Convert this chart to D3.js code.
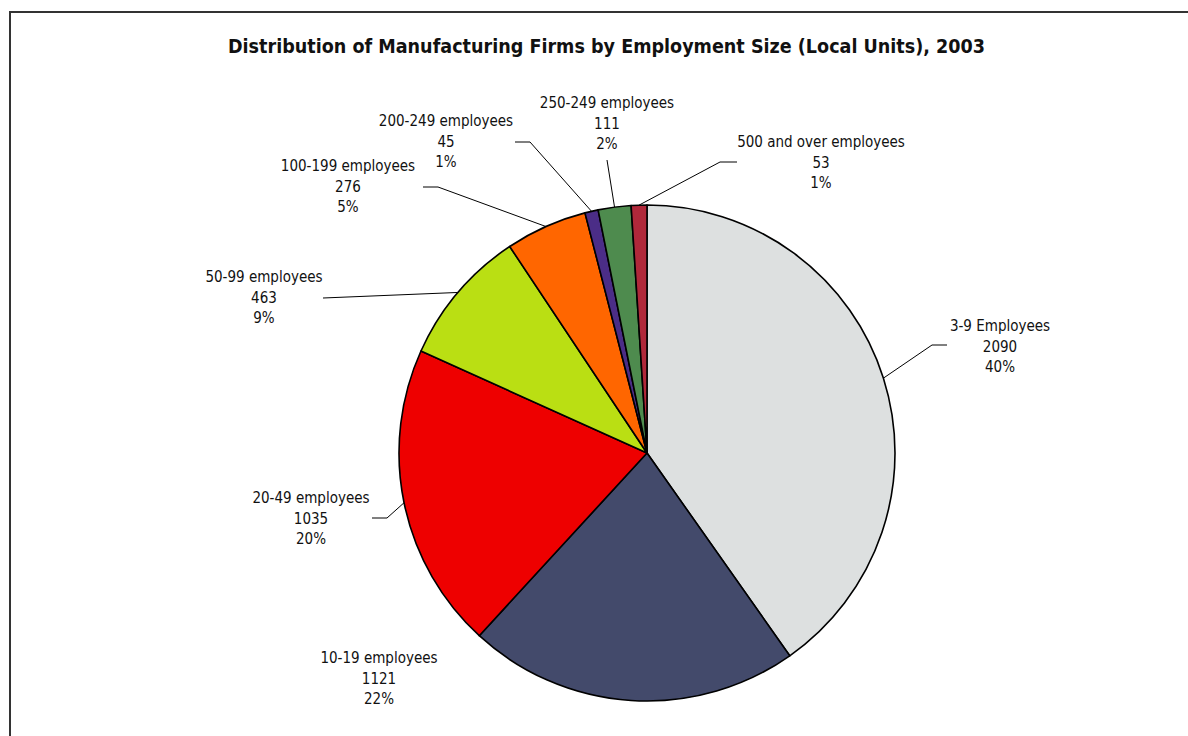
<!DOCTYPE html>
<html>
<head>
<meta charset="utf-8">
<script src="https://cdn.jsdelivr.net/npm/d3@7/dist/d3.min.js"></script>
<style>
  html, body { margin: 0; padding: 0; background: #fff; }
  svg { display: block; }
  text { font-family: "DejaVu Sans Condensed", "DejaVu Sans", sans-serif; fill: #111; }
</style>
</head>
<body>
<svg id="chart" width="1188" height="736"></svg>
<script>
// Local units by employment size band, 2003
const categories = [
  "3-9 Employees", "10-19 employees", "20-49 employees", "50-99 employees",
  "100-199 employees", "200-249 employees", "250-249 employees", "500 and over employees"
];
const firms = [2090, 1121, 1035, 463, 276, 45, 111, 53];
const percentLabels = ["40%", "22%", "20%", "9%", "5%", "1%", "2%", "1%"];

const sliceColors = ["#dde0e0", "#434a6b", "#ee0000", "#badf13", "#ff6600", "#4b2d87", "#4e8b4e", "#b0283a"];

// Label block placement: centre x, first baseline, and the elbow of the leader line
const labelLayout = [
  { x: 1000, y: 331, elbow: [932, 345], end: [947, 345] },
  { x: 379, y: 663, elbow: null, end: null },
  { x: 311, y: 503, elbow: [387, 518], end: [372, 518] },
  { x: 264, y: 282, elbow: null, end: [323, 298] },
  { x: 348, y: 171, elbow: [438, 187], end: [423, 187] },
  { x: 446, y: 126, elbow: [530, 142], end: [515, 142] },
  { x: 607, y: 108, elbow: null, end: [607, 160] },
  { x: 821, y: 147, elbow: [720, 162], end: [737, 162] }
];

const svg = d3.select("#chart");
const W = 1188, H = 736;

// frame
svg.append("rect")
  .attr("x", 10).attr("y", 12)
  .attr("width", W).attr("height", H)
  .attr("fill", "#fff")
  .attr("stroke", "#333").attr("stroke-width", 2);

svg.append("text")
  .attr("x", 606.5).attr("y", 53)
  .attr("text-anchor", "middle")
  .attr("font-weight", "bold")
  .attr("font-size", 19)
  .attr("textLength", 757)
  .attr("lengthAdjust", "spacingAndGlyphs")
  .text("Distribution of Manufacturing Firms by Employment Size (Local Units), 2003");

const cx = 647, cy = 453, r = 248;
const data = categories.map((c, i) => ({ name: c, value: firms[i], pct: percentLabels[i], color: sliceColors[i], layout: labelLayout[i] }));

const pie = d3.pie().value(d => d.value).sort(null);
const arc = d3.arc().innerRadius(0).outerRadius(r);
const arcs = pie(data);

const g = svg.append("g").attr("transform", `translate(${cx},${cy})`);
g.selectAll("path.slice")
  .data(arcs)
  .join("path")
  .attr("class", "slice")
  .attr("d", arc)
  .attr("fill", d => d.data.color)
  .attr("stroke", "#000")
  .attr("stroke-width", 1.6)
  .attr("stroke-linejoin", "round");

// leader lines from the rim at each slice's mid-angle
const leaders = svg.append("g");
arcs.forEach(a => {
  const L = a.data.layout;
  if (!L.end) return;
  const mid = (a.startAngle + a.endAngle) / 2;
  const px = cx + r * Math.sin(mid), py = cy - r * Math.cos(mid);
  const pts = [[px, py]];
  if (L.elbow) pts.push(L.elbow);
  pts.push(L.end);
  leaders.append("path")
    .attr("d", d3.line()(pts))
    .attr("fill", "none")
    .attr("stroke", "#000")
    .attr("stroke-width", 1);
});

// three-line labels: category, count, share
const labels = svg.append("g");
arcs.forEach(a => {
  const L = a.data.layout;
  const t = labels.append("text")
    .attr("text-anchor", "middle")
    .attr("font-size", 15);
  [a.data.name, String(a.data.value), a.data.pct].forEach((line, k) => {
    t.append("tspan").attr("x", L.x).attr("y", L.y + k * 20.5).text(line);
  });
});
</script>
</body>
</html>
